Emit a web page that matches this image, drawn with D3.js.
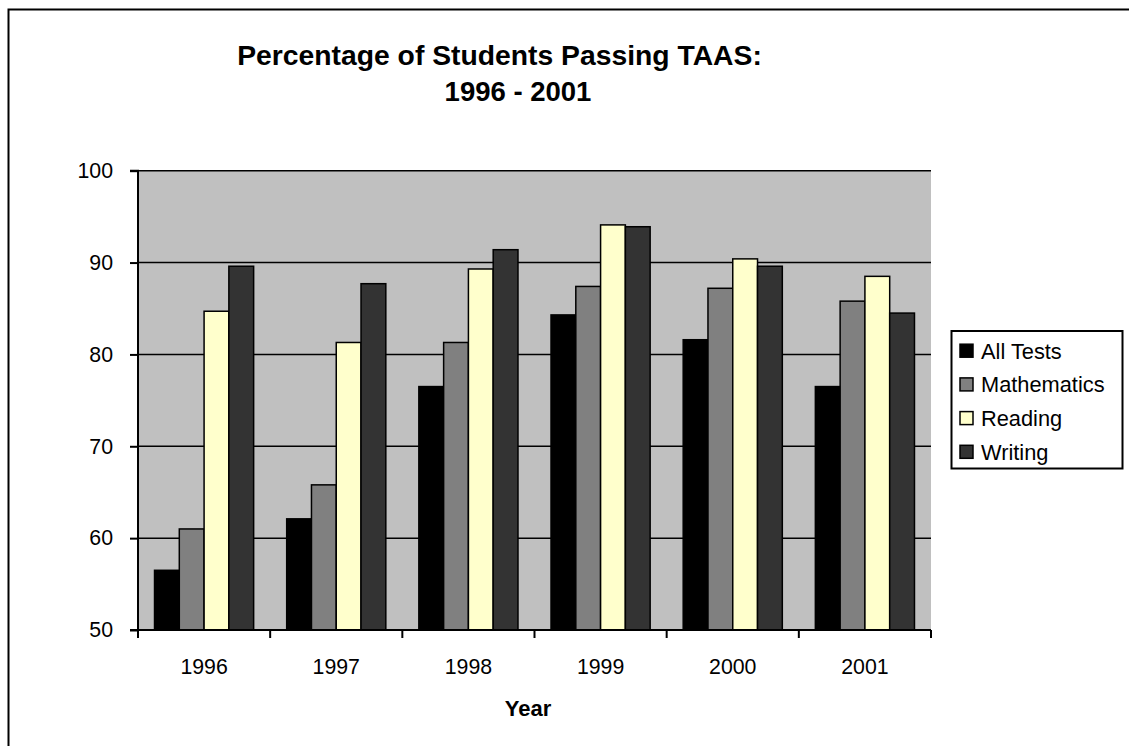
<!DOCTYPE html>
<html><head><meta charset="utf-8">
<script src="https://cdn.jsdelivr.net/npm/d3@7"></script>
<style>body{margin:0;background:#fff}svg{display:block}text{font-family:Arial,"Liberation Sans",sans-serif;fill:#000}</style>
</head><body>
<script>
const years = ["1996","1997","1998","1999","2000","2001"];
const seriesNames = ["All Tests","Mathematics","Reading","Writing"];
const allTests    = [56.5, 62.1, 76.5, 84.3, 81.6, 76.5];
const mathematics = [61.0, 65.8, 81.3, 87.4, 87.2, 85.8];
const reading     = [84.7, 81.3, 89.3, 94.1, 90.4, 88.5];
const writing     = [89.6, 87.7, 91.4, 93.9, 89.6, 84.5];
const yTicks = [50, 60, 70, 80, 90, 100];
const colors = ["#000000", "#808080", "#FFFFCC", "#333333"];

const seriesValues = [allTests, mathematics, reading, writing];
const W = 1129, H = 746;
const svg = d3.select("body").append("svg").attr("width", W).attr("height", H);

// outer frame (extends past window on right/bottom)
svg.append("rect").attr("x", 8.5).attr("y", 9.5).attr("width", 1200).attr("height", 800)
  .attr("fill", "#fff").attr("stroke", "#000").attr("stroke-width", 2);

const L = 138, R = 931, T = 170.7, B = 630;
const y = d3.scaleLinear().domain([50, 100]).range([B, T]);
const x0 = d3.scaleBand().domain(years).range([L, R]).padding(0);
const bw = x0.bandwidth();
const x1 = d3.scaleBand().domain(seriesNames).range([bw * 0.125, bw * 0.875]).padding(0);

// plot background
svg.append("rect").attr("x", L).attr("y", T).attr("width", R - L).attr("height", B - T).attr("fill", "#C0C0C0");

// gridlines
svg.append("g").selectAll("line").data(yTicks.filter(d => d > 50)).join("line")
  .attr("x1", L).attr("x2", R).attr("y1", d => y(d)).attr("y2", d => y(d))
  .attr("stroke", "#000").attr("stroke-width", 1.5);

// bars
const groups = svg.append("g").selectAll("g").data(years).join("g")
  .attr("transform", d => `translate(${x0(d)},0)`);
groups.selectAll("rect").data((d, i) => seriesNames.map((s, j) => ({s, j, v: seriesValues[j][i]}))).join("rect")
  .attr("x", d => x1(d.s)).attr("width", x1.bandwidth())
  .attr("y", d => y(d.v)).attr("height", d => y(50) - y(d.v))
  .attr("fill", d => colors[d.j]).attr("stroke", "#000").attr("stroke-width", 1.5);

// y axis
const yAxis = d3.axisLeft(y).tickValues(yTicks).tickSize(8).tickPadding(17);
const gy = svg.append("g").attr("transform", `translate(${L},0)`).call(yAxis);
gy.select(".domain").attr("stroke", "#000").attr("stroke-width", 2).attr("d", `M-8,${T}H0V${B}H-8`);
gy.selectAll(".tick line").attr("stroke", "#000").attr("stroke-width", 2);
gy.selectAll(".tick text").attr("font-size", 21.3).attr("font-family", "Arial, 'Liberation Sans', sans-serif").attr("fill", "#000");

// x axis
const xAxis = d3.axisBottom(x0).tickSize(0).tickPadding(29);
const gx = svg.append("g").attr("transform", `translate(0,${B})`).call(xAxis);
gx.select(".domain").attr("stroke", "#000").attr("stroke-width", 2).attr("d", `M${L},0H${R}`);
gx.selectAll(".tick text").attr("font-size", 21.3).attr("font-family", "Arial, 'Liberation Sans', sans-serif").attr("fill", "#000");
// category boundary ticks
svg.append("g").selectAll("line").data(years.concat(["end"])).join("line")
  .attr("x1", d => d === "end" ? R : x0(d)).attr("x2", d => d === "end" ? R : x0(d))
  .attr("y1", B).attr("y2", B + 8).attr("stroke", "#000").attr("stroke-width", 2);

// axis title
svg.append("text").attr("x", 528).attr("y", 716).attr("text-anchor", "middle")
  .attr("font-size", 22).attr("font-weight", "bold").text("Year");

// chart title
svg.append("text").attr("x", 499.5).attr("y", 65).attr("text-anchor", "middle")
  .attr("font-size", 28.3).attr("font-weight", "bold").text("Percentage of Students Passing TAAS:");
svg.append("text").attr("x", 518).attr("y", 101).attr("text-anchor", "middle")
  .attr("font-size", 27.5).attr("font-weight", "bold").text("1996 - 2001");

// legend
const lg = svg.append("g");
lg.append("rect").attr("x", 951.5).attr("y", 331).attr("width", 171).attr("height", 137.5)
  .attr("fill", "#fff").attr("stroke", "#000").attr("stroke-width", 2);
const items = lg.selectAll("g.item").data(seriesNames).join("g").attr("class", "item")
  .attr("transform", (d, i) => `translate(0,${350.7 + i * 33.7})`);
items.append("rect").attr("x", 960).attr("y", -6.5).attr("width", 13).attr("height", 13)
  .attr("fill", (d, i) => colors[i]).attr("stroke", "#000").attr("stroke-width", 1.5);
items.append("text").attr("x", 981).attr("y", 0).attr("dy", "0.36em")
  .attr("font-size", 21.8).text(d => d);
</script>
</body></html>
